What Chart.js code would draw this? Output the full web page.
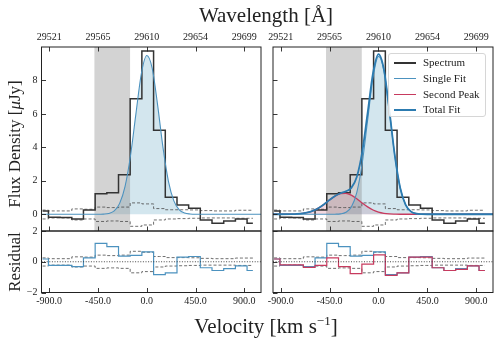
<!DOCTYPE html>
<html>
<head>
<meta charset="utf-8">
<script src="https://cdn.jsdelivr.net/npm/chart.js@4.4.0/dist/chart.umd.min.js"></script>
<style>
  html, body { margin: 0; padding: 0; background: #fff; }
  #wrap { position: relative; width: 499px; height: 340px; overflow: hidden; font-family: 'Liberation Serif', serif; color: #222; }
  #wrap canvas { position: absolute; left: 0; top: 0; }
  .title { position: absolute; white-space: nowrap; font-size: 21px; line-height: 1; transform: translate(-50%, -50%); }
  .title.rot { font-size: 17px; transform: translate(-50%, -50%) rotate(-90deg); }
  #legend { position: absolute; left: 388px; top: 53px; width: 98px; height: 64px; box-sizing: border-box;
            border: 1px solid #d6d6d6; border-radius: 3px; background: rgba(255,255,255,0.85); font-size: 11px; padding-top: 1px; }
  #legend .row { height: 15.8px; line-height: 15.8px; position: relative; padding-left: 34px; white-space: nowrap; }
  #legend .sw { position: absolute; left: 5px; width: 22px; }
</style>
</head>
<body>
<div id="wrap">
  <canvas id="cLT" width="499" height="340"></canvas>
  <canvas id="cLR" width="499" height="340"></canvas>
  <canvas id="cRT" width="499" height="340"></canvas>
  <canvas id="cRR" width="499" height="340"></canvas>
  <div class="title" style="left:266px; top:15px;">Wavelength [Å]</div>
  <div class="title" style="left:266px; top:325px;">Velocity [km s<sup style="font-size:13px; vertical-align:8px;">−1</sup>]</div>
  <div class="title rot" style="left:14px; top:144px;">Flux Density [<i>μ</i>Jy]</div>
  <div class="title rot" style="left:14px; top:262px;">Residual</div>
  <div id="legend">
    <div class="row"><span class="sw" style="top:7px; height:1.6px; background:#333;"></span>Spectrum</div>
    <div class="row"><span class="sw" style="top:7.5px; height:1px; background:#4c92bf;"></span>Single Fit</div>
    <div class="row"><span class="sw" style="top:7.5px; height:1px; background:#c73a5e;"></span>Second Peak</div>
    <div class="row"><span class="sw" style="top:7px; height:1.8px; background:#2c7bb0;"></span>Total Fit</div>
  </div>
</div>
<script>
// axis ticks
const velTicks = [-900, -450, 0, 450, 900];
const velLabels = ['-900.0', '-450.0', '0.0', '450.0', '900.0'];
const waveLabels = ['29521', '29565', '29610', '29654', '29699'];
const fluxTicks = [0, 2, 4, 6, 8];
const resTicks = [-2, 0, 2];
const bandVel = [-483, -154];

// binned spectrum (bin centres, km/s)
const binVel = [-961, -853, -745, -638, -530, -422, -314, -207, -99, 9, 117, 225, 333, 440, 548, 656, 764, 872, 979];
const flux = [0.2, -0.18, -0.2, -0.28, 0.26, 1.22, 1.28, 2.36, 6.9, 9.76, 5.02, 1.02, 0.56, 0.36, -0.34, -0.54, -0.4, -0.28, -0.54];
const errHi = [0.25, 0.2, 0.2, 0.32, 0.3, 0.43, 0.4, 0.43, 0.68, 0.62, 0.34, 0.27, 0.27, 0.26, 0.22, 0.2, 0.2, 0.24, 0.24];
const errLo = [-0.28, -0.22, -0.22, -0.34, -0.28, -0.43, -0.4, -0.43, -0.72, -0.64, -0.34, -0.28, -0.26, -0.24, -0.22, -0.22, -0.22, -0.24, -0.24];
const resSingle = [0.18, -0.23, -0.23, -0.32, 0.25, 1.2, 0.98, 0.36, 0.41, 0.64, -0.84, -0.73, 0.3, 0.34, -0.39, -0.57, -0.45, -0.27, -0.57];
const resTotal = [0.18, -0.2, -0.2, -0.36, -0.23, 0.25, -0.32, -0.77, -0.16, 0.45, -0.89, -0.73, 0.3, 0.3, -0.39, -0.57, -0.5, -0.27, -0.57];

// fitted curves, sampled
const fitVel = [-971, -800, -750, -700, -650, -600, -550, -500, -450, -400, -350, -300, -250, -200, -150, -100, -50, 0, 50, 100, 150, 200, 250, 300, 350, 400, 450, 1054];
const singleFit = [0, 0, 0, 0, 0, 0, 0, 0, 0, 0.01, 0.05, 0.2, 0.65, 1.67, 3.5, 6.0, 8.4, 9.49, 8.74, 6.54, 3.98, 1.97, 0.8, 0.26, 0.07, 0.015, 0, 0];
const mainPeak = [0, 0, 0, 0, 0, 0, 0, 0, 0, 0.004, 0.025, 0.12, 0.44, 1.3, 3.05, 5.62, 8.19, 9.44, 8.59, 6.18, 3.51, 1.57, 0.56, 0.16, 0.035, 0.006, 0, 0];
const secondPeak = [0, 0.007, 0.02, 0.05, 0.11, 0.215, 0.38, 0.6, 0.86, 1.085, 1.23, 1.25, 1.14, 0.925, 0.67, 0.44, 0.255, 0.13, 0.06, 0.026, 0.01, 0, 0, 0, 0, 0, 0, 0];
const totalFit = [0, 0.007, 0.02, 0.05, 0.11, 0.215, 0.38, 0.6, 0.86, 1.09, 1.255, 1.37, 1.58, 2.23, 3.72, 6.06, 8.45, 9.57, 8.65, 6.21, 3.52, 1.57, 0.56, 0.16, 0.035, 0.006, 0, 0];

const X_MIN = -971, X_MAX = 1054;
const W = 499, H = 340, AX_Y = 30, AX_X = 20, TICK = 4.5;
const COL_L = { left: 41.5, right: 261 }, COL_R = { left: 273, right: 493 };
const ROW_T = { top: 47, bottom: 231 }, ROW_B = { top: 231, bottom: 292.5 };

Chart.defaults.font.family = "'Liberation Serif', serif";
Chart.defaults.font.size = 10;
Chart.defaults.color = '#222';

const pts = (xs, ys) => xs.map((x, i) => ({ x, y: ys[i] }));

function stepSet(ys, color, width, order, dash) {
  return { data: pts(binVel, ys), stepped: 'middle', borderColor: color, borderWidth: width,
           borderDash: dash || [], pointRadius: 0, fill: false, order };
}
function curveSet(ys, color, width, order, fillColor) {
  return { data: pts(fitVel, ys), borderColor: color, borderWidth: width, pointRadius: 0,
           cubicInterpolationMode: 'monotone', fill: fillColor ? 'origin' : false,
           backgroundColor: fillColor || 'transparent', order };
}

// gray band, drawn over the fills but under the lines
const band = {
  id: 'band',
  beforeDatasetsDraw(chart, args, o) {
    if (!o.on) return;
    const { ctx, chartArea: a, scales } = chart;
    const x0 = scales.x.getPixelForValue(bandVel[0]), x1 = scales.x.getPixelForValue(bandVel[1]);
    ctx.save();
    ctx.fillStyle = 'rgba(128,128,128,0.35)';
    ctx.fillRect(x0, a.top, x1 - x0, a.height);
    ctx.restore();
  }
};

// frame, inward ticks, optional dotted zero line
const frame = {
  id: 'frame',
  afterDatasetsDraw(chart, args, o) {
    const { ctx, chartArea: a, scales } = chart;
    ctx.save();
    if (o.zero) {
      const y0 = scales.y.getPixelForValue(0);
      ctx.strokeStyle = '#333'; ctx.lineWidth = 0.9; ctx.setLineDash([1, 1.6]);
      ctx.beginPath(); ctx.moveTo(a.left, y0); ctx.lineTo(a.right, y0); ctx.stroke();
      ctx.setLineDash([]);
    }
    ctx.strokeStyle = '#222'; ctx.lineWidth = 0.9;
    ctx.beginPath();
    velTicks.forEach(v => {
      const px = Math.round(scales.x.getPixelForValue(v)) + 0.5;
      if (o.top) { ctx.moveTo(px, a.top); ctx.lineTo(px, a.top + TICK); }
      ctx.moveTo(px, a.bottom); ctx.lineTo(px, a.bottom - TICK);
    });
    o.yTicks.forEach(v => {
      const py = Math.round(scales.y.getPixelForValue(v)) + 0.5;
      ctx.moveTo(a.left, py); ctx.lineTo(a.left + TICK, py);
    });
    ctx.stroke();
    ctx.lineWidth = 1;
    ctx.strokeRect(a.left, a.top, a.right - a.left, a.bottom - a.top);
    ctx.restore();
  }
};

function panel(id, col, row, c) {
  const noGrid = { display: false, drawTicks: false };
  const setX = s => { s.ticks = velTicks.map(v => ({ value: v })); };
  return new Chart(document.getElementById(id), {
    type: 'line',
    data: { datasets: c.datasets },
    plugins: [band, frame],
    options: {
      responsive: false, animation: false, events: [], devicePixelRatio: 1,
      layout: {
        autoPadding: false,
        padding: {
          left: col.left - (c.yLabels ? AX_Y : 0),
          right: W - col.right,
          top: row.top - (c.topLabels ? AX_X : 0),
          bottom: H - row.bottom - (c.bottomLabels ? AX_X : 0)
        }
      },
      scales: {
        x: {
          type: 'linear', position: 'bottom', min: X_MIN, max: X_MAX, display: c.bottomLabels,
          grid: noGrid, border: { display: false }, afterBuildTicks: setX,
          ticks: { padding: 3, maxRotation: 0, autoSkip: false, callback: (v, i) => velLabels[i] },
          afterFit: s => { s.height = c.bottomLabels ? AX_X : 0; }
        },
        xTop: {
          type: 'linear', position: 'top', min: X_MIN, max: X_MAX, display: c.topLabels,
          grid: noGrid, border: { display: false }, afterBuildTicks: setX,
          ticks: { padding: 4, maxRotation: 0, autoSkip: false, callback: (v, i) => waveLabels[i] },
          afterFit: s => { s.height = c.topLabels ? AX_X : 0; }
        },
        y: {
          type: 'linear', min: c.yMin, max: c.yMax, display: c.yLabels,
          grid: noGrid, border: { display: false },
          afterBuildTicks: s => { s.ticks = c.yTicks.map(v => ({ value: v })); },
          ticks: { padding: 4, autoSkip: false, callback: v => String(v).replace('-', '\u2212') },
          afterFit: s => { s.width = c.yLabels ? AX_Y : 0; }
        }
      },
      plugins: {
        legend: { display: false }, tooltip: { enabled: false },
        filler: { drawTime: 'beforeDatasetsDraw' },
        band: { on: c.band },
        frame: { top: c.topTicks, zero: c.zero, yTicks: c.yTicks }
      }
    }
  });
}

const SPEC = '#333', SINGLE = '#4c92bf', TOTAL = '#2c7bb0', SECOND = '#c73a5e', ERR = '#4a4a4a';
const DASH = [3, 2];

// left: single-component fit
panel('cLT', COL_L, ROW_T, {
  yMin: -1, yMax: 10, yTicks: fluxTicks, yLabels: true, topLabels: true, bottomLabels: false,
  band: true, topTicks: true, zero: false,
  datasets: [
    curveSet(singleFit, SINGLE, 1.1, 1, 'rgba(120,178,204,0.33)'),
    stepSet(flux, SPEC, 1.5, 2),
    stepSet(errHi, ERR, 0.8, 3, DASH),
    stepSet(errLo, ERR, 0.8, 4, DASH)
  ]
});
panel('cLR', COL_L, ROW_B, {
  yMin: -2, yMax: 2, yTicks: resTicks, yLabels: true, topLabels: false, bottomLabels: true,
  band: false, topTicks: false, zero: true,
  datasets: [
    stepSet(resSingle, SINGLE, 1.2, 1),
    stepSet(errHi, ERR, 0.8, 3, DASH),
    stepSet(errLo, ERR, 0.8, 4, DASH)
  ]
});

// right: two-component fit
panel('cRT', COL_R, ROW_T, {
  yMin: -1, yMax: 10, yTicks: fluxTicks, yLabels: false, topLabels: true, bottomLabels: false,
  band: true, topTicks: true, zero: false,
  datasets: [
    curveSet(totalFit, TOTAL, 1.8, 1),
    curveSet(mainPeak, SINGLE, 1.1, 2, 'rgba(120,178,204,0.33)'),
    curveSet(secondPeak, SECOND, 1.3, 3, 'rgba(199,58,94,0.2)'),
    stepSet(flux, SPEC, 1.5, 4),
    stepSet(errHi, ERR, 0.8, 5, DASH),
    stepSet(errLo, ERR, 0.8, 6, DASH)
  ]
});
panel('cRR', COL_R, ROW_B, {
  yMin: -2, yMax: 2, yTicks: resTicks, yLabels: false, topLabels: false, bottomLabels: true,
  band: false, topTicks: false, zero: true,
  datasets: [
    stepSet(resTotal, SECOND, 1.2, 1),
    stepSet(resSingle, SINGLE, 1.2, 2),
    stepSet(errHi, ERR, 0.8, 3, DASH),
    stepSet(errLo, ERR, 0.8, 4, DASH)
  ]
});
</script>
</body>
</html>
